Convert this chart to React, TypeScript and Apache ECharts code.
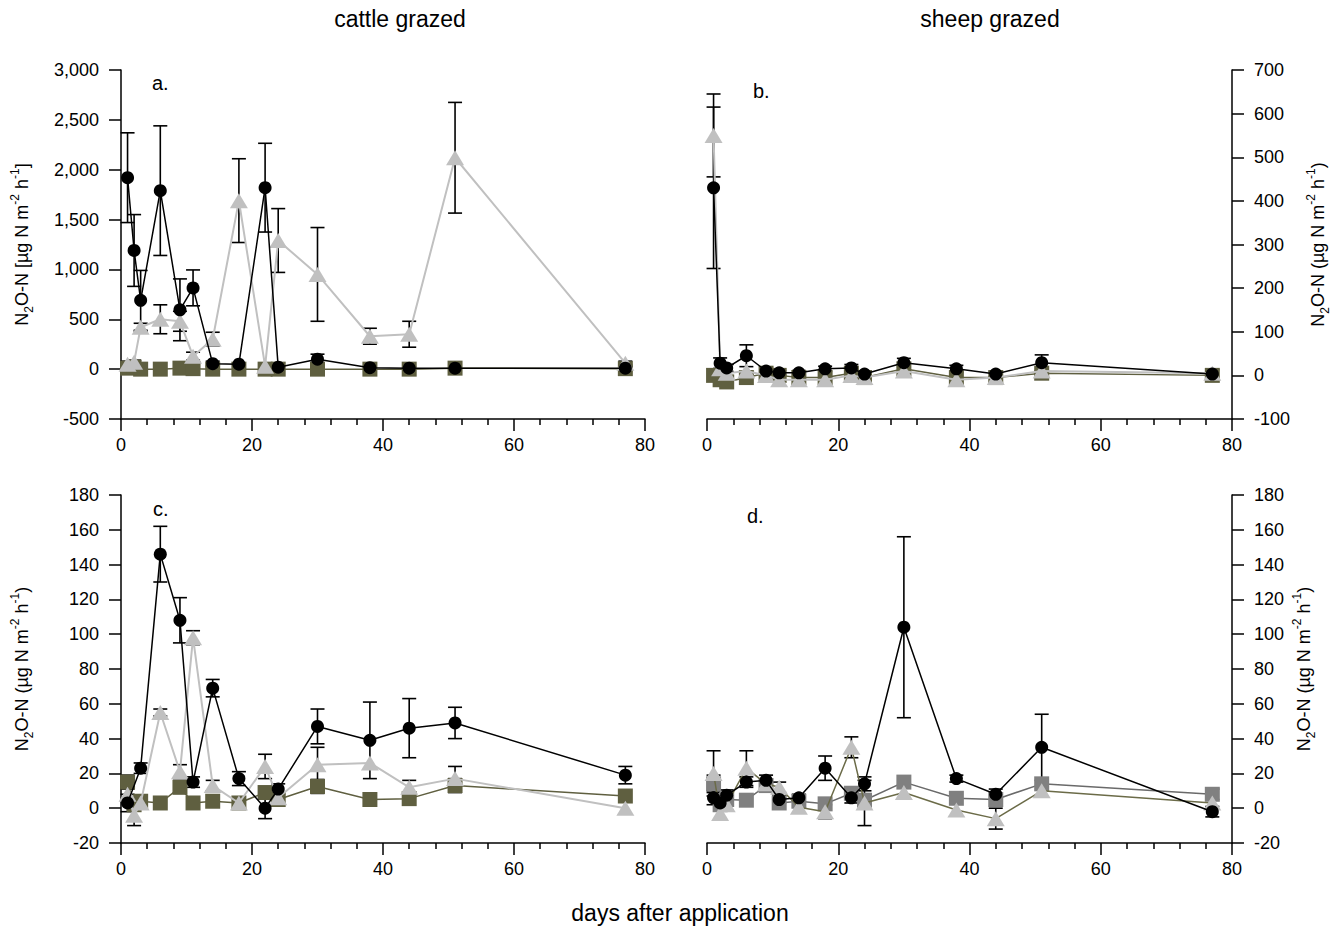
import React, { useEffect, useRef } from "react";
import * as echarts from "echarts";

const FONT = "'Liberation Sans', Arial, Helvetica, sans-serif";

// sampling days (days after application)
const days = [1, 2, 3, 6, 9, 11, 14, 18, 22, 24, 30, 38, 44, 51, 77];

// a. cattle grazed (top)
const aCircle = [1920, 1190, 690, 1790, 595, 815, 55, 50, 1820, 20, 100, 15, 10, 10, 10];
const aCircleErr = [450, 360, 300, 650, 310, 180, 25, null, 445, null, 50, 15, 15, 15, 15];
const aTriangle = [50, 70, 420, 500, 480, 130, 300, 1690, 30, 1290, 950, 330, 350, 2120, 60];
const aTriangleErr = [30, 20, 40, 145, 100, 40, 70, 420, null, 320, 470, 80, 130, 555, 20];
const aSquare = [10, 20, 0, 0, 10, 5, 0, 0, 0, 0, 0, 0, 0, 10, 5];
const aSquareErr = [null, null, null, null, null, null, null, null, null, null, null, null, null, null, 15];

// b. sheep grazed (top)
const bCircle = [430, 28, 17, 45, 10, 6, 6, 15, 17, 3, 29, 15, 3, 29, 3];
const bCircleErr = [185, 12, 8, 25, 6, 5, 5, 6, 8, 6, 10, 8, 6, 18, 10];
const bTriangle = [550, 15, 5, 10, 0, -10, -10, -10, 0, -5, 10, -10, -5, 10, 5];
const bTriangleErr = [95, null, null, null, null, null, null, null, null, null, null, null, null, null, null];
const bSquare = [0, -10, -15, -5, 5, 0, -5, -5, 5, -5, 15, -5, -5, 5, 0];

// c. cattle grazed (bottom)
const cCircle = [3, null, 23, 146, 108, 15, 69, 17, 0, 11, 47, 39, 46, 49, 19];
const cCircleErr = [5, null, 3, 16, 13, 3, 5, 4, 6, 3, 10, 22, 17, 9, 5];
const cTriangle = [8, -4, 3, 55, 21, 98, 13, 3, 24, 6, 25, 26, 12, 17, 0];
const cTriangleErr = [null, 6, null, 2, 4, 4, 3, null, 7, null, 10, null, 4, 7, null];
const cSquare = [15, 2, 4, 3, 12, 3, 4, 3, 9, 5, 12.5, 5, 5.5, 13, 7];
const cSquareErr = [4, null, null, null, null, null, null, null, null, null, 4, null, null, 4, null];

// d. sheep grazed (bottom)
const dCircle = [6, 3, 7.5, 15, 16, 5, 6, 23, 6, 14, 104, 17, 8, 35, -2];
const dCircleErr = [4, 4, 3, 3, 3, 2, 2, 7, 3, 4, 52, 2, 3, 19, 3];
const dTriangle = [20, -3, 2, 23, 14, 12, 0.5, -2, 35, 3, 9, -1, -6, 10, 3];
const dTriangleErr = [13, null, 3, 10, null, 3, null, 4, 6, 13, null, null, 6, null, null];
const dSquare = [14, 2, 5, 4.6, 13, 3, 4, 2.5, 8.6, 4.6, 15, 5.7, 5, 14, 8];
const dSquareErr = [5, null, null, null, null, null, null, null, null, null, null, null, null, null, 3];

const yRanges = [
  { min: -500, max: 3000, interval: 500 },
  { min: -100, max: 700, interval: 100 },
  { min: -20, max: 180, interval: 20 },
  { min: -20, max: 180, interval: 20 },
];

function pts(vals: (number | null)[]) {
  return days
    .map((d, i) => (vals[i] == null ? null : [d, vals[i] as number]))
    .filter((p) => p !== null);
}
function errs(vals: (number | null)[], e: (number | null)[]) {
  return days
    .map((d, i) =>
      vals[i] == null || e[i] == null
        ? null
        : [d, (vals[i] as number) - (e[i] as number), (vals[i] as number) + (e[i] as number)]
    )
    .filter((p) => p !== null);
}

function nameText(bracket: boolean) {
  const o = bracket ? "[" : "(";
  const c = bracket ? "]" : ")";
  return `{n|N}{s|2}{n|O-N ${o}µg N m}{p|-2}{n| h}{p|-1}{n|${c}}`;
}

const App: React.FC = () => {
  const ref = useRef<HTMLDivElement>(null);

  useEffect(() => {
    if (!ref.current) return;
    const chart = echarts.init(ref.current, undefined, { renderer: "svg" });

    const grids = [
      { left: 121, right: 693, top: 70, bottom: 509 },
      { left: 707, right: 106, top: 70, bottom: 509 },
      { left: 121, right: 693, top: 495, bottom: 85 },
      { left: 707, right: 106, top: 495, bottom: 85 },
    ];

    const axisLineStyle = { color: "#000", width: 1.5 };

    const xAxis = grids.map((_, i) => ({
      type: "value",
      gridIndex: i,
      min: 0,
      max: 80,
      interval: 20,
      axisLine: { show: true, onZero: false, lineStyle: axisLineStyle },
      axisTick: { show: true, length: 12, lineStyle: axisLineStyle },
      minorTick: { show: true, splitNumber: 5, length: 6, lineStyle: axisLineStyle },
      splitLine: { show: false },
      axisLabel: { color: "#000", fontSize: 18, fontFamily: FONT, margin: 17 },
    }));

    const nameGaps = [86, 73, 86, 59];
    const yAxis = grids.map((_, i) => ({
      type: "value",
      gridIndex: i,
      position: i % 2 === 1 ? "right" : "left",
      min: yRanges[i].min,
      max: yRanges[i].max,
      interval: yRanges[i].interval,
      axisLine: { show: true, onZero: false, lineStyle: axisLineStyle },
      axisTick: { show: true, length: 12, lineStyle: axisLineStyle },
      splitLine: { show: false },
      axisLabel: {
        color: "#000",
        fontSize: 18,
        fontFamily: FONT,
        margin: 22,
        formatter: (v: number) =>
          Math.abs(v) >= 1000 ? v.toLocaleString("en-US") : String(v),
      },
      name: nameText(i === 0),
      nameLocation: "middle",
      nameRotate: 90,
      nameGap: nameGaps[i],
      nameTextStyle: {
        color: "#000",
        fontFamily: FONT,
        fontSize: 18,
        rich: {
          n: { fontSize: 18, lineHeight: 26, fontFamily: FONT, color: "#000" },
          s: { fontSize: 12, lineHeight: 15, verticalAlign: "bottom", fontFamily: FONT, color: "#000" },
          p: { fontSize: 12, lineHeight: 15, verticalAlign: "top", fontFamily: FONT, color: "#000" },
        },
      },
    }));

    const panels = [
      { c: aCircle, ce: aCircleErr, t: aTriangle, te: aTriangleErr, s: aSquare, se: aSquareErr },
      { c: bCircle, ce: bCircleErr, t: bTriangle, te: bTriangleErr, s: bSquare, se: null },
      { c: cCircle, ce: cCircleErr, t: cTriangle, te: cTriangleErr, s: cSquare, se: cSquareErr },
      { c: dCircle, ce: dCircleErr, t: dTriangle, te: dTriangleErr, s: dSquare, se: dSquareErr },
    ];

    const series: any[] = [];
    panels.forEach((p, i) => {
      const errData = [
        ...errs(p.s, p.se || days.map(() => null)),
        ...errs(p.t, p.te),
        ...errs(p.c, p.ce),
      ];
      series.push({
        type: "custom",
        name: "error bars " + i,
        xAxisIndex: i,
        yAxisIndex: i,
        data: errData,
        encode: { x: 0, y: [1, 2] },
        z: 1,
        silent: true,
        renderItem: (params: any, api: any) => {
          const x = api.value(0);
          const lo = api.value(1);
          const hi = api.value(2);
          const a = api.coord([x, hi]);
          const b = api.coord([x, lo]);
          const w = 7;
          const st = { stroke: "#000", lineWidth: 1.6 };
          return {
            type: "group",
            children: [
              { type: "line", shape: { x1: a[0], y1: a[1], x2: b[0], y2: b[1] }, style: st },
              { type: "line", shape: { x1: a[0] - w, y1: a[1], x2: a[0] + w, y2: a[1] }, style: st },
              { type: "line", shape: { x1: b[0] - w, y1: b[1], x2: b[0] + w, y2: b[1] }, style: st },
            ],
          };
        },
      });
      const isD = i === 3;
      const sqColor = isD ? "#808080" : "#5f5f40";
      const sqLine = isD ? "#6a6a6a" : "#5f5f40";
      const triLine = isD ? "#6b6b48" : "#c0c0c0";
      series.push({
        type: "line",
        name: "squares " + i,
        xAxisIndex: i,
        yAxisIndex: i,
        data: pts(p.s),
        symbol: "rect",
        symbolSize: 15,
        itemStyle: { color: sqColor },
        lineStyle: { color: sqLine, width: 1.5 },
        z: 2,
        silent: true,
      });
      series.push({
        type: "line",
        name: "triangles " + i,
        xAxisIndex: i,
        yAxisIndex: i,
        data: pts(p.t),
        symbol: "triangle",
        symbolSize: [18, 15],
        itemStyle: { color: "#c0c0c0" },
        lineStyle: { color: triLine, width: isD ? 1.5 : 2 },
        z: 3,
        silent: true,
      });
      series.push({
        type: "line",
        name: "circles " + i,
        xAxisIndex: i,
        yAxisIndex: i,
        data: pts(p.c),
        connectNulls: true,
        symbol: "circle",
        symbolSize: 13,
        itemStyle: { color: "#000" },
        lineStyle: { color: "#000", width: 1.5 },
        z: 4,
        silent: true,
      });
    });

    const txt = (text: string, x: number, y: number, size: number, align = "center") => ({
      type: "text",
      x,
      y,
      silent: true,
      style: {
        text,
        fontSize: size,
        fontFamily: FONT,
        fill: "#000",
        textAlign: align,
        align,
        textVerticalAlign: "middle",
        verticalAlign: "middle",
      },
    });

    chart.setOption({
      animation: false,
      backgroundColor: "#fff",
      grid: grids,
      xAxis,
      yAxis,
      series,
      graphic: [
        txt("cattle grazed", 400, 19, 23),
        txt("sheep grazed", 990, 19, 23),
        txt("days after application", 680, 913, 23),
        txt("a.", 152, 83, 20, "left"),
        txt("b.", 753, 91, 20, "left"),
        txt("c.", 153, 509, 20, "left"),
        txt("d.", 747, 516, 20, "left"),
      ],
    });

    return () => chart.dispose();
  }, []);

  return (
    <div
      ref={ref}
      style={{ position: "fixed", left: 0, top: 0, width: 1338, height: 928, background: "#fff" }}
    />
  );
};

export default App;
